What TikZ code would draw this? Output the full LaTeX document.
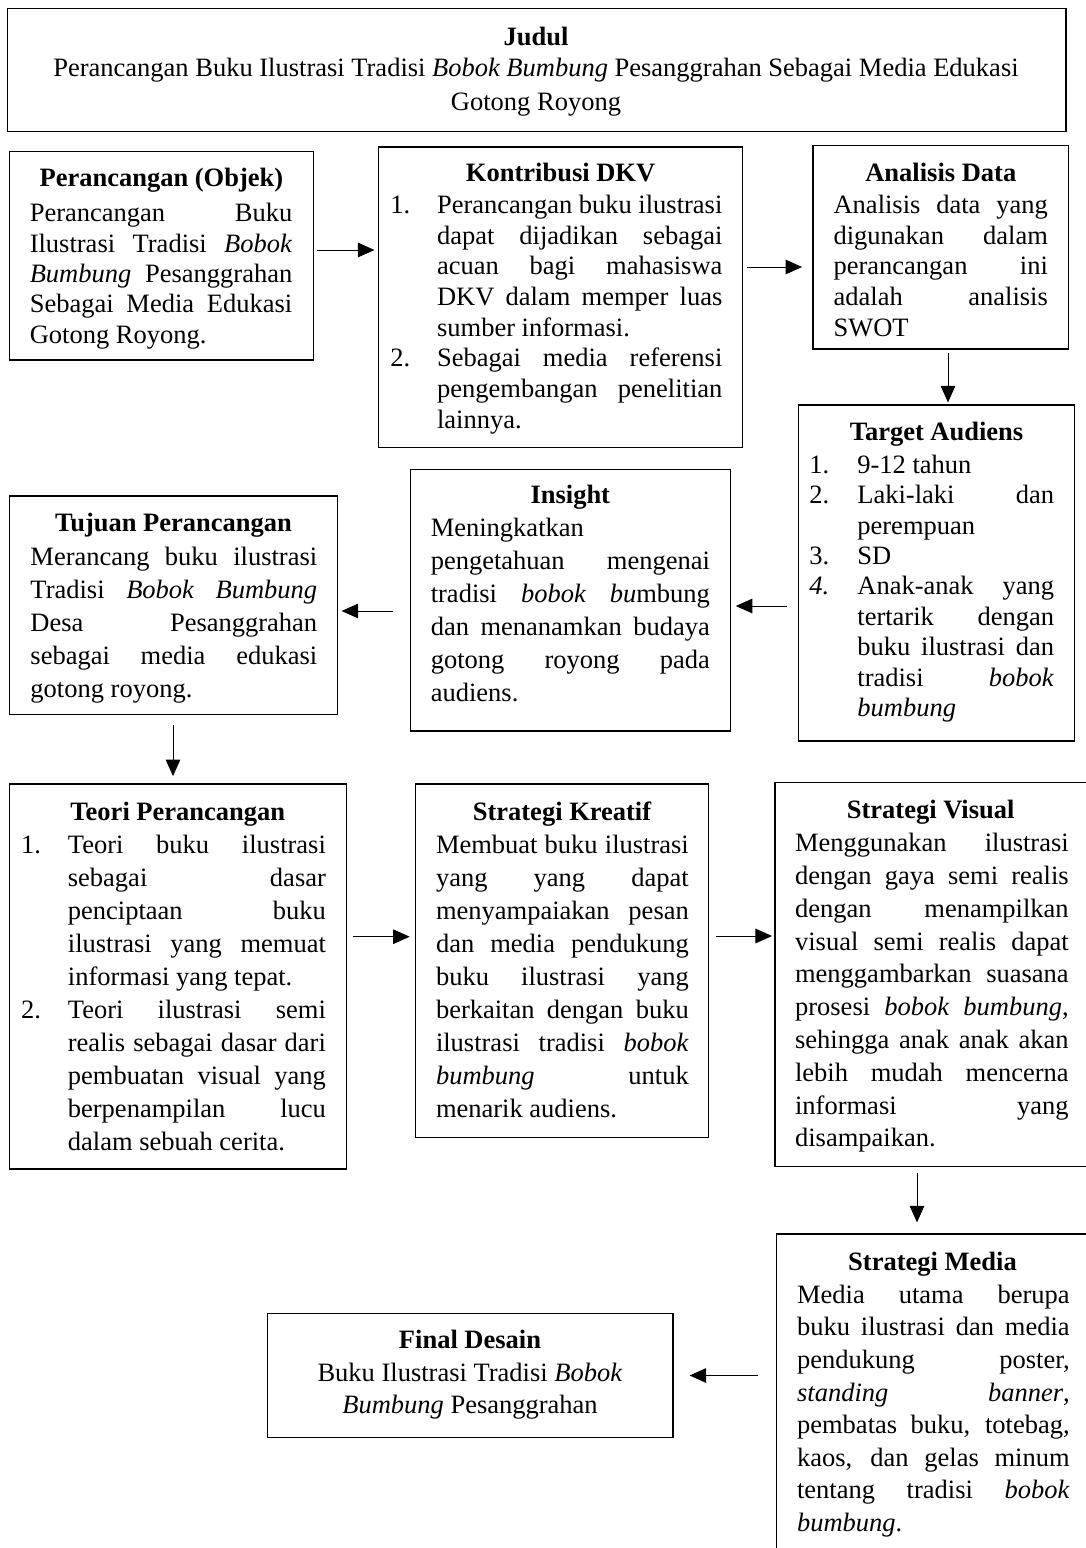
\documentclass[tikz,border=0pt]{standalone}
\usepackage{fontspec}
\setmainfont{Liberation Serif}
\usetikzlibrary{arrows.meta,fit}
\newlength{\numw}
\setlength{\numw}{23.35pt}
\newcommand{\jline}[1]{\makebox[\linewidth][s]{#1}}
\newcommand{\numj}[2]{\makebox[\numw][l]{#1}\makebox[\dimexpr\linewidth-\numw\relax][s]{#2}}
\newcommand{\numl}[2]{\makebox[\numw][l]{#1}#2}
\newcommand{\contj}[1]{\hspace*{\numw}\makebox[\dimexpr\linewidth-\numw\relax][s]{#1}}
\newcommand{\contl}[1]{\hspace*{\numw}#1}
\newcommand{\bodytext}[3]{\parbox[t]{#1}{\fontsize{13.25}{#2}\selectfont #3}}
\tikzset{
  box/.style={draw, line width=0.6pt, inner sep=0pt},
  ttl/.style={anchor=base, inner sep=0pt, font=\fontsize{13.25}{15}\selectfont\bfseries},
  ctr/.style={anchor=base, inner sep=0pt, font=\fontsize{13.25}{15}\selectfont},
  body/.style={anchor=base west, inner sep=0pt},
  arr/.style={-{Triangle[length=8.3pt,width=7.3pt]}, line width=0.5pt},
}
\begin{document}
\begin{tikzpicture}[x=0.5pt,y=-0.5pt]
\useasboundingbox (0,0) rectangle (1086,1548);
\fill[white] (0,0) rectangle (1086,1548);
\clip (0,0) rectangle (1086,1548);

% ---------- boxes ----------
\node[box, fit={(7.6,8.3) (1066,131.7)}] (judul) {};
\node[box, fit={(9.3,151.7) (313.4,360)}] (objek) {};
\node[box, fit={(378.5,147) (742.8,447.5)}] (kontrib) {};
\node[box, fit={(813,145.7) (1068.6,349)}] (analisis) {};
\node[box, fit={(798.5,405) (1074.5,741)}] (target) {};
\node[box, fit={(410.3,469.3) (730.3,731)}] (insight) {};
\node[box, fit={(9.3,496) (337.6,714.3)}] (tujuan) {};
\node[box, fit={(9.3,784) (346.3,1169)}] (teori) {};
\node[box, fit={(415.5,784) (708.5,1137.7)}] (kreatif) {};
\node[box, fit={(775,782.7) (1090,1166.7)}] (visual) {};
\node[box, fit={(776.7,1234) (1090,1570)}] (media) {};
\node[box, fit={(267.3,1313.3) (673,1437.7)}] (final) {};

% ---------- Judul ----------
\node[ttl] (judulT) at (536,45) {Judul};
\node[ctr] (judulA) at (536,76.7) {Perancangan Buku Ilustrasi Tradisi \textit{Bobok Bumbung} Pesanggrahan Sebagai Media Edukasi};
\node[ctr] (judulB) at (536,110) {Gotong Royong};

% ---------- Perancangan (Objek) ----------
\node[ttl] (objekT) at (161.4,186.7) {Perancangan (Objek)};
\node[body] (objekB) at (29.4,221.7) {\bodytext{131.25pt}{15.2pt}{%
\jline{Perancangan Buku}\\
\jline{Ilustrasi Tradisi \textit{Bobok}}\\
\jline{\textit{Bumbung} Pesanggrahan}\\
\jline{Sebagai Media Edukasi}\\
Gotong Royong.}};

% ---------- Kontribusi DKV ----------
\node[ttl] (kontribT) at (560.6,181.7) {Kontribusi DKV};
\node[body] (kontribB) at (390,213.3) {\bodytext{166pt}{15.35pt}{%
\numj{1.}{Perancangan buku ilustrasi}\\
\contj{dapat dijadikan sebagai}\\
\contj{acuan bagi mahasiswa}\\
\contj{DKV dalam memper luas}\\
\contl{sumber informasi.}\\
\numj{2.}{Sebagai media referensi}\\
\contj{pengembangan penelitian}\\
\contl{lainnya.}}};

% ---------- Analisis Data ----------
\node[ttl] (analisisT) at (940.8,181.7) {Analisis Data};
\node[body] (analisisB) at (833.2,213.3) {\bodytext{107.15pt}{15.35pt}{%
\jline{Analisis data yang}\\
\jline{digunakan dalam}\\
\jline{perancangan ini}\\
\jline{adalah analisis}\\
SWOT}};

% ---------- Target Audiens ----------
\node[ttl] (targetT) at (936.5,440) {Target Audiens};
\node[body] (targetB) at (809,473.3) {\bodytext{122.35pt}{15.2pt}{\setlength{\numw}{24pt}%
\numl{1.}{9-12 tahun}\\
\numj{2.}{Laki-laki dan}\\
\contl{perempuan}\\
\numl{3.}{SD}\\
\numj{\textit{4.}}{Anak-anak yang}\\
\contj{tertarik dengan}\\
\contj{buku ilustrasi dan}\\
\contj{tradisi \textit{bobok}}\\
\contl{\textit{bumbung}}}};

% ---------- Insight ----------
\node[ttl] (insightT) at (570.3,503.3) {Insight};
\node[body] (insightB) at (430.4,536) {\bodytext{139.55pt}{16.5pt}{%
Meningkatkan\\
\jline{pengetahuan mengenai}\\
\jline{tradisi \textit{bobok bu}mbung}\\
\jline{dan menanamkan budaya}\\
\jline{gotong royong pada}\\
audiens.}};

% ---------- Tujuan Perancangan ----------
\node[ttl] (tujuanT) at (173.5,531.7) {Tujuan Perancangan};
\node[body] (tujuanB) at (30.1,565) {\bodytext{143.35pt}{16.6pt}{%
\jline{Merancang buku ilustrasi}\\
\jline{Tradisi \textit{Bobok Bumbung}}\\
\jline{Desa Pesanggrahan}\\
\jline{sebagai media edukasi}\\
gotong royong.}};

% ---------- Teori Perancangan ----------
\node[ttl] (teoriT) at (177.8,820) {Teori Perancangan};
\node[body] (teoriB) at (20.8,853.3) {\bodytext{152.35pt}{16.5pt}{%
\numj{1.}{Teori buku ilustrasi}\\
\contj{sebagai dasar}\\
\contj{penciptaan buku}\\
\contj{ilustrasi yang memuat}\\
\contl{informasi yang tepat.}\\
\numj{2.}{Teori ilustrasi semi}\\
\contj{realis sebagai dasar dari}\\
\contj{pembuatan visual yang}\\
\contj{berpenampilan lucu}\\
\contl{dalam sebuah cerita.}}};

% ---------- Strategi Kreatif ----------
\node[ttl] (kreatifT) at (562,820) {Strategi Kreatif};
\node[body] (kreatifB) at (435.6,853.3) {\bodytext{126.4pt}{16.5pt}{%
\jline{Membuat buku ilustrasi}\\
\jline{yang yang dapat}\\
\jline{menyampaiakan pesan}\\
\jline{dan media pendukung}\\
\jline{buku ilustrasi yang}\\
\jline{berkaitan dengan buku}\\
\jline{ilustrasi tradisi \textit{bobok}}\\
\jline{\textit{bumbung} untuk}\\
menarik audiens.}};

% ---------- Strategi Visual ----------
\node[ttl] (visualT) at (930.7,818.3) {Strategi Visual};
\node[body] (visualB) at (794.7,851.7) {\bodytext{136.8pt}{16.4pt}{%
\jline{Menggunakan ilustrasi}\\
\jline{dengan gaya semi realis}\\
\jline{dengan menampilkan}\\
\jline{visual semi realis dapat}\\
\jline{menggambarkan suasana}\\
\jline{prosesi \textit{bobok bumbung},}\\
\jline{sehingga anak anak akan}\\
\jline{lebih mudah mencerna}\\
\jline{informasi yang}\\
disampaikan.}};

% ---------- Strategi Media ----------
\node[ttl] (mediaT) at (932.5,1270) {Strategi Media};
\node[body] (mediaB) at (796.7,1303.3) {\bodytext{136.3pt}{16.3pt}{%
\jline{Media utama berupa}\\
\jline{buku ilustrasi dan media}\\
\jline{pendukung poster,}\\
\jline{\textit{standing banner},}\\
\jline{pembatas buku, totebag,}\\
\jline{kaos, dan gelas minum}\\
\jline{tentang tradisi \textit{bobok}}\\
\textit{bumbung}.}};

% ---------- Final Desain ----------
\node[ttl] (finalT) at (470,1348.3) {Final Desain};
\node[ctr] (finalA) at (470,1381.7) {Buku Ilustrasi Tradisi \textit{Bobok}};
\node[ctr] (finalB) at (470,1413.3) {\textit{Bumbung} Pesanggrahan};

% ---------- connectors ----------
\draw[arr, shorten <=1.65pt, shorten >=1.75pt] (objek.east |- 0,250) -- (kontrib.west |- 0,250);
\draw[arr, shorten <=1.9pt, shorten >=5.15pt] (kontrib.east |- 0,267) -- (analisis.west |- 0,267);
\draw[arr, shorten <=1.5pt, shorten >=1pt] (analisis.south -| 948,0) -- (target.north -| 948,0);
\draw[arr, shorten <=5.35pt, shorten >=2.45pt] (target.west |- 0,606) -- (insight.east |- 0,606);
\draw[arr, shorten <=8.3pt, shorten >=1.7pt] (insight.west |- 0,611) -- (tujuan.east |- 0,611);
\draw[arr, shorten <=5pt, shorten >=3.65pt] (tujuan.south -| 173,0) -- (teori.north -| 173,0);
\draw[arr, shorten <=2.85pt, shorten >=2.6pt] (teori.east |- 0,936.7) -- (kreatif.west |- 0,936.7);
\draw[arr, shorten <=3.25pt, shorten >=1.2pt] (kreatif.east |- 0,936) -- (visual.west |- 0,936);
\draw[arr, shorten <=2.65pt, shorten >=5.5pt] (visual.south -| 917,0) -- (media.north -| 917,0);
\draw[arr, shorten <=8.85pt, shorten >=8pt] (media.west |- 0,1375.5) -- (final.east |- 0,1375.5);
\end{tikzpicture}
\end{document}
